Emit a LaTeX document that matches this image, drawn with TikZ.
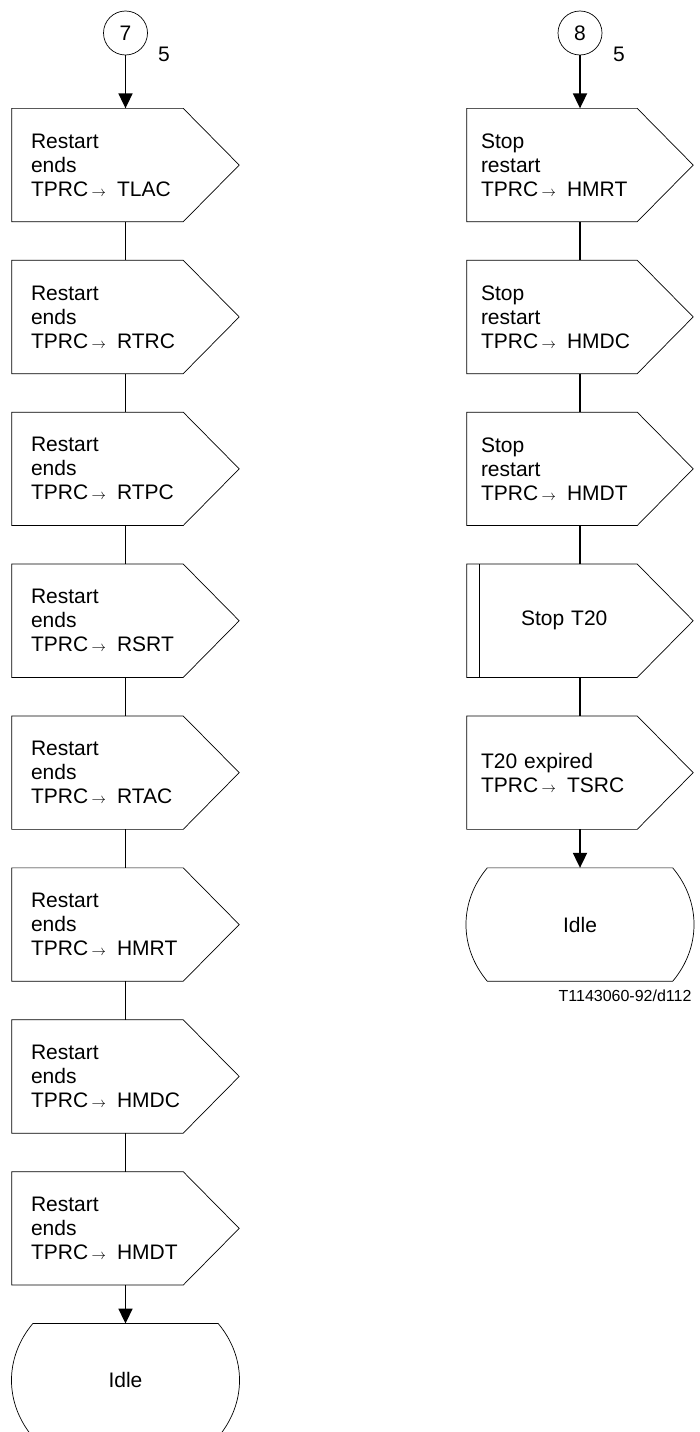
\documentclass[tikz,border=0pt]{standalone}
\usepackage{fontspec}
\setmainfont{Liberation Sans}
\usetikzlibrary{arrows.meta, positioning}
\newcommand{\prcarrow}{\,{\fontsize{14}{14}\selectfont$\rightarrow$}\hspace{11pt}}

\begin{document}
\begin{tikzpicture}[x=1pt, y=1pt, node distance=38.5pt,
  every node/.style={font=\fontsize{21}{24}\selectfont},
  conn/.style={line width=1.8pt},
  arr/.style={conn, -{Triangle[width=14pt, length=15pt]}},
  outl/.style={line width=0.7pt},
  conncirc/.style={circle, draw, outl, minimum size=44pt, inner sep=0pt},
  sigbox/.style={minimum width=227pt, minimum height=113pt, inner sep=0pt, text width=189pt, align=left},
  sigboxr/.style={sigbox, minimum width=226pt, text width=198pt},
  statebox/.style={minimum width=185pt, minimum height=113pt, inner sep=0pt}]
  \useasboundingbox (0,0) rectangle (699,-1432);

  % linke Spalte: Konnektor 7
  \node[conncirc] (c7) at (125.5,-33) {7};
  \node (n7) at (164,-54) {5};
  \node[sigbox, below=53pt of c7] (l1) {Restart\\ends\\TPRC\prcarrow TLAC};
  \node[sigbox, below=of l1] (l2) {Restart\\ends\\TPRC\prcarrow RTRC};
  \node[sigbox, below=of l2] (l3) {Restart\\ends\\TPRC\prcarrow RTPC};
  \node[sigbox, below=of l3] (l4) {Restart\\ends\\TPRC\prcarrow RSRT};
  \node[sigbox, below=of l4] (l5) {Restart\\ends\\TPRC\prcarrow RTAC};
  \node[sigbox, below=of l5] (l6) {Restart\\ends\\TPRC\prcarrow HMRT};
  \node[sigbox, below=of l6] (l7) {Restart\\ends\\TPRC\prcarrow HMDC};
  \node[sigbox, below=of l7] (l8) {Restart\\ends\\TPRC\prcarrow HMDT};
  \node[statebox, below=of l8] (idleL) {Idle};

  % rechte Spalte: Konnektor 8
  \node[conncirc] (c8) at (580,-33) {8};
  \node (n8) at (619,-54) {5};
  \node[sigboxr, below=53pt of c8] (r1) {Stop\\restart\\TPRC\prcarrow HMRT};
  \node[sigboxr, below=of r1] (r2) {Stop\\restart\\TPRC\prcarrow HMDC};
  \node[sigboxr, below=of r2] (r3) {Stop\\restart\\TPRC\prcarrow HMDT};
  \node[sigboxr, below=of r3] (r4) {\hspace*{40pt}Stop T20};
  \node[sigboxr, below=of r4] (r5) {T20 expired\\TPRC\prcarrow TSRC};
  \node[statebox, below=of r5] (idleR) {Idle};
  \node[font=\fontsize{16}{18}\selectfont, anchor=north east] (ref) at (695,-986) {T1143060-92/d112};

  % Signalsymbole
  \foreach \n in {l1,l2,l3,l4,l5,l6,l7,l8,r1,r2,r3,r4,r5}
    \draw[outl] (\n.north west) -- ([xshift=-56pt]\n.north east) -- (\n.east)
      -- ([xshift=-56pt]\n.south east) -- (\n.south west) -- cycle;
  \draw[line width=1.3pt] ([xshift=12.7pt]r4.north west) -- ([xshift=12.7pt]r4.south west);

  % Zustandssymbole
  \foreach \n in {idleL,idleR}
    \draw[outl] (\n.north west) -- (\n.north east) to[bend left=40] (\n.south east)
      -- (\n.south west) to[bend left=40] (\n.north west);

  % Verbindungen
  \draw[arr] (c7) -- (l1);
  \foreach \a/\b in {l1/l2,l2/l3,l3/l4,l4/l5,l5/l6,l6/l7,l7/l8}
    \draw[conn] (\a) -- (\b);
  \draw[arr] (l8) -- (idleL);
  \draw[arr] (c8) -- (r1);
  \foreach \a/\b in {r1/r2,r2/r3,r3/r4,r4/r5}
    \draw[conn] (\a) -- (\b);
  \draw[arr] (r5) -- (idleR);
\end{tikzpicture}
\end{document}
